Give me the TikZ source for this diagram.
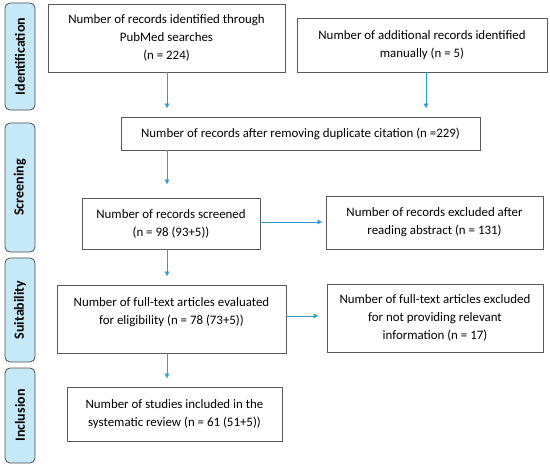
\documentclass[tikz,border=0pt]{standalone}
\usepackage{fontspec}
\setmainfont{Carlito}
\usetikzlibrary{arrows.meta,
	calc,
	positioning
}
\definecolor{arrowblue}{HTML}{2E9BD6}
\definecolor{phasefill}{HTML}{C6E9F8}
\tikzset{
	record/.style={draw=black!65, line width=0.8pt, align=center, inner sep=2pt, text=black, font=\fontsize{12.9}{18}\selectfont},
	phase/.style={draw=black!70, line width=0.8pt, rounded corners=5pt, fill=phasefill, rotate=90, minimum height=30pt, inner sep=0pt, text=black, font=\fontsize{14}{16}\selectfont\bfseries},
	flow/.style={draw=arrowblue, line width=0.6pt, -{Latex[length=5pt,width=5pt]}, shorten >=8pt},
}

\begin{document}
\begin{tikzpicture}[x=1pt, y=-1pt]
\useasboundingbox (0,0) rectangle (550,466);

% phases

\node[phase, minimum width=107pt] (p1) at (20,56.5) {Identification};
\node[phase, minimum width=129pt] (p2) at (20,187.5) {Screening};
\node[phase, minimum width=104pt] (p3) at (20,310) {Suitability};
\node[phase, minimum width=95pt] (p4) at (20,415.5) {Inclusion};

% graph

\node[record, minimum width=237pt, minimum height=68pt] (n1) at (166.5,38) {Number of records identified through\\PubMed searches\\(n = 224)};
\node[record, minimum width=250pt, minimum height=54pt] (n2) at (422,45) {Number of additional records identified\\manually (n = 5)};
\node[record, minimum width=359pt, minimum height=33pt] (n3) at (300.5,133.5) {Number of records after removing duplicate citation (n =229)};
\node[record, minimum width=178pt, minimum height=51pt] (n4) at (171,223.5) {Number of records screened\\(n = 98 (93+5))};
\node[record, minimum width=217pt, minimum height=53pt] (n5) at (434.5,222.5) {Number of records excluded after\\reading abstract (n = 131)};
\node[record, minimum width=229pt, minimum height=68pt, text depth=16pt] (n6) at (171.5,319) {Number of full-text articles evaluated\\for eligibility (n = 78 (73+5))};
\node[record, minimum width=216pt, minimum height=68pt] (n7) at (435,318) {Number of full-text articles excluded\\for not providing relevant\\information (n = 17)};
\node[record, minimum width=215pt, minimum height=54pt] (n8) at (174.5,414) {Number of studies included in the\\systematic review (n = 61 (51+5))};

% connections

\coordinate (col) at (167,0);

\draw[flow] (n1.south -| col) -- (n3.north -| col);
\draw[flow] (n2.south) ++(4,0) -- ($(n3.north -| n2.south)+(4,0)$);
\draw[flow, shorten >=13pt] (n3.south -| col) -- (n4.north -| col);
\draw[flow, shorten >=3pt] (n4.east |- 0,222) -- (n5.west |- 0,222);
\draw[flow] (n4.south -| col) -- (n6.north -| col);
\draw[flow] (n6.east |- 0,316) -- (n7.west |- 0,316);
\draw[flow] (n6.south -| col) -- (n8.north -| col);

\end{tikzpicture}
\end{document}
